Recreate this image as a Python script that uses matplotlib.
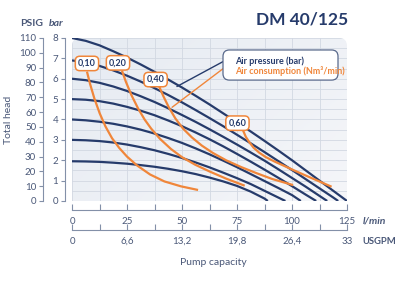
import matplotlib
matplotlib.use("Agg")
import matplotlib.pyplot as plt
from matplotlib.patches import FancyBboxPatch
import numpy as np

navy, orange = '#263b6b', '#f0863a'
txt_col, spine_col = '#4a5878', '#8390a8'

# air pressure curves (bar) - flow in l/min, head in bar
p8_x = [0, 6.25, 12.5, 18.75, 25, 31.25, 37.5, 43.75, 50, 56.25, 62.5, 68.75, 75, 81.25, 87.5, 93.75, 100, 106.25, 112.5, 118.75, 125]
p8_y = [8.0, 7.86, 7.64, 7.35, 7.04, 6.7, 6.34, 5.96, 5.57, 5.16, 4.74, 4.3, 3.86, 3.41, 2.95, 2.48, 2.0, 1.5, 1.0, 0.5, 0.0]
p7_x = [0, 6.25, 12.5, 18.75, 25, 31.25, 37.5, 43.75, 50, 56.25, 62.5, 68.75, 75, 81.25, 87.5, 93.75, 100, 106.25, 112.5, 118.75, 121]
p7_y = [6.9, 6.8, 6.63, 6.41, 6.15, 5.86, 5.54, 5.2, 4.84, 4.46, 4.07, 3.67, 3.25, 2.83, 2.4, 1.96, 1.52, 1.07, 0.62, 0.17, 0.0]
p6_x = [0, 6.25, 12.5, 18.75, 25, 31.25, 37.5, 43.75, 50, 56.25, 62.5, 68.75, 75, 81.25, 87.5, 93.75, 100, 106.25, 112.5, 116]
p6_y = [6.0, 5.93, 5.8, 5.62, 5.4, 5.14, 4.86, 4.55, 4.22, 3.88, 3.52, 3.15, 2.77, 2.38, 1.98, 1.56, 1.13, 0.7, 0.25, 0.0]
p5_x = [0, 6.25, 12.5, 18.75, 25, 31.25, 37.5, 43.75, 50, 56.25, 62.5, 68.75, 75, 81.25, 87.5, 93.75, 100, 106.25, 111]
p5_y = [5.0, 4.97, 4.9, 4.78, 4.62, 4.43, 4.21, 3.95, 3.67, 3.36, 3.03, 2.68, 2.31, 1.93, 1.54, 1.14, 0.73, 0.31, 0.0]
p4_x = [0, 6.25, 12.5, 18.75, 25, 31.25, 37.5, 43.75, 50, 56.25, 62.5, 68.75, 75, 81.25, 87.5, 93.75, 100, 104]
p4_y = [4.0, 3.96, 3.89, 3.79, 3.66, 3.5, 3.31, 3.09, 2.85, 2.58, 2.29, 1.98, 1.66, 1.32, 0.98, 0.64, 0.29, 0.0]
p3_x = [0, 6.25, 12.5, 18.75, 25, 31.25, 37.5, 43.75, 50, 56.25, 62.5, 68.75, 75, 81.25, 87.5, 93.75, 97]
p3_y = [3.0, 2.98, 2.94, 2.87, 2.77, 2.64, 2.49, 2.31, 2.11, 1.89, 1.65, 1.39, 1.12, 0.83, 0.5, 0.17, 0.0]
p2_x = [0, 6.25, 12.5, 18.75, 25, 31.25, 37.5, 43.75, 50, 56.25, 62.5, 68.75, 75, 81.25, 87.5, 89]
p2_y = [1.95, 1.94, 1.92, 1.88, 1.83, 1.76, 1.68, 1.58, 1.46, 1.32, 1.15, 0.96, 0.74, 0.46, 0.12, 0.0]
pressure = [(p8_x, p8_y), (p7_x, p7_y), (p6_x, p6_y), (p5_x, p5_y), (p4_x, p4_y), (p3_x, p3_y), (p2_x, p2_y)]

# air consumption curves (Nm3/min)
a10_x = [6.8, 8.2, 10.2, 12.6, 15.2, 18.2, 21.5, 25, 29.5, 35.5, 42, 49.5, 57.3]
a10_y = [6.35, 5.75, 5.02, 4.3, 3.66, 3.08, 2.6, 2.18, 1.75, 1.3, 0.96, 0.72, 0.54]
a20_x = [22.7, 24.5, 27, 30, 33, 36, 40, 45, 50, 56, 62.5, 70, 78.5]
a20_y = [6.4, 5.85, 5.2, 4.55, 4.0, 3.55, 3.05, 2.55, 2.15, 1.78, 1.45, 1.1, 0.75]
a40_x = [39.5, 41.5, 44, 47, 50.5, 54.5, 59, 64, 70, 77, 84, 91, 100.5]
a40_y = [5.65, 5.15, 4.6, 4.05, 3.55, 3.12, 2.72, 2.36, 2.0, 1.66, 1.36, 1.08, 0.78]
a60_x = [77.8, 79, 80.5, 82.5, 85, 88, 92, 96.5, 101, 106, 112, 118]
a60_y = [3.45, 3.15, 2.9, 2.62, 2.38, 2.16, 1.94, 1.72, 1.5, 1.26, 0.98, 0.7]
consumption = [(a10_x, a10_y), (a20_x, a20_y), (a40_x, a40_y), (a60_x, a60_y)]
cons_labels = ['0,10', '0,20', '0,40', '0,60']
label_pos = [(6.8, 6.75), (20.9, 6.78), (38.0, 5.96), (75.2, 3.82)]

lmin_ticks = [0, 25, 50, 75, 100, 125]
gpm_labels = ['0', '6,6', '13,2', '19,8', '26,4', '33']
psig_ticks = list(range(0, 111, 10))
bar_ticks = list(range(0, 9))

plt.rcParams.update({'font.size': 7, 'font.family': ['Lato', 'DejaVu Sans']})
fig = plt.figure(figsize=(4, 2.84), dpi=100)
ax = fig.add_axes([0.18, 0.2923, 0.6875, 0.5739])
ax.set_xlim(0, 125)
ax.set_ylim(0, 8)
for s in ax.spines.values():
    s.set_visible(False)

# soft background, rounded at the top right
grad = np.linspace(0, 1, 200)[None, :] * 0.6 + np.linspace(1, 0, 100)[:, None] * 0.4
bg = ax.imshow(grad, extent=(0, 125, 0, 8), aspect='auto', origin='lower',
               cmap=matplotlib.colors.LinearSegmentedColormap.from_list('bg', ['#e6ebf2', '#f5f6f9']), zorder=0)
clip = FancyBboxPatch((0, -1), 125, 9, boxstyle='round,pad=0,rounding_size=3.6',
                      mutation_aspect=0.108, transform=ax.transData, fc='none', ec='none')
ax.add_patch(clip)
bg.set_clip_path(clip)
ax.set_xticks(np.arange(0, 125.1, 12.5))
ax.set_yticks(np.arange(0, 8.01, 0.5))
ax.tick_params(length=0, labelbottom=False, labelleft=False)
ax.grid(color='#d2d8e2', lw=0.6, zorder=1)
for gl in ax.get_xgridlines() + ax.get_ygridlines():
    gl.set_clip_path(clip)
ax.set_axisbelow(False)

for x, y in pressure:
    ax.plot(x, y, color=navy, lw=1.6, solid_capstyle='butt', zorder=3)
for x, y in consumption:
    ax.plot(x, y, color=orange, lw=1.6, solid_capstyle='butt', zorder=4)
for lab, (lx, ly) in zip(cons_labels, label_pos):
    ax.text(lx, ly, lab, ha='center', va='center', color=navy, fontsize=6.5, fontweight='bold', zorder=6,
            bbox=dict(boxstyle='round,pad=0.3,rounding_size=0.5', fc='white', ec=orange, lw=1.1))

# left axes: bar and PSIG
yb = ax.secondary_yaxis(-0.025)
yb.set_yticks(bar_ticks)
yp = ax.secondary_yaxis(-0.105, functions=(lambda b: b * 110 / 8, lambda p: p * 8 / 110))
yp.set_yticks(psig_ticks)
for a in (yb, yp):
    a.spines['left'].set_color(spine_col)
    a.spines['left'].set_linewidth(0.8)
    a.tick_params(axis='y', direction='out', length=3, width=0.8, color=spine_col, labelcolor=txt_col, pad=2)

# bottom axes: l/min and USGPM
xl = ax.secondary_xaxis(-0.055)
xl.set_xticks(lmin_ticks)
xl.set_xticks(np.arange(12.5, 125, 25), minor=True)
xg = ax.secondary_xaxis(-0.178)
xg.set_xticks(lmin_ticks)
xg.set_xticklabels(gpm_labels)
xg.set_xticks(np.arange(12.5, 125, 25), minor=True)
for a in (xl, xg):
    a.spines['bottom'].set_color(spine_col)
    a.spines['bottom'].set_linewidth(0.8)
    a.tick_params(axis='x', which='both', direction='in', length=4, width=0.8, color=spine_col, labelcolor=txt_col, pad=5)

fig.text(0.08, 0.918, 'PSIG', color=txt_col, fontsize=7.5, fontweight='bold', ha='center', va='center')
fig.text(0.14, 0.918, 'bar', color=txt_col, fontsize=7.5, fontweight='bold', style='italic', ha='center', va='center')
fig.text(0.022, 0.577, 'Total head', color=txt_col, fontsize=7.5, rotation=90, ha='center', va='center')
fig.text(0.907, 0.222, 'l/min', color=txt_col, fontsize=7.5, fontweight='bold', style='italic', ha='left', va='center')
fig.text(0.905, 0.148, 'USGPM', color=txt_col, fontsize=6.8, fontweight='bold', ha='left', va='center')
fig.text(0.533, 0.077, 'Pump capacity', color=txt_col, fontsize=7.5, ha='center', va='center')
fig.text(0.755, 0.93, 'DM 40/125', color=navy, fontsize=12.5, fontweight='bold', ha='center', va='center')

# legend box with leader lines
fig.add_artist(FancyBboxPatch((0.5575, 0.718), 0.2875, 0.106, boxstyle='round,pad=0,rounding_size=0.016',
                              mutation_aspect=400 / 284, transform=fig.transFigure,
                              fc='white', ec='#5a6a8c', lw=0.9, zorder=10))
fig.text(0.587, 0.786, 'Air pressure (bar)', color=navy, fontsize=6.5, fontweight='bold', va='center', zorder=11)
fig.text(0.587, 0.751, 'Air consumption (Nm³/min)', color=orange, fontsize=6.5, fontweight='bold', va='center', zorder=11)
ax.annotate('', xy=(47.7, 5.62), xytext=(0.5575, 0.783), textcoords='figure fraction',
            arrowprops=dict(arrowstyle='-', color=navy, lw=1.0, shrinkA=0, shrinkB=0), zorder=5)
ax.annotate('', xy=(45.5, 4.6), xytext=(0.5575, 0.758), textcoords='figure fraction',
            arrowprops=dict(arrowstyle='-', color=orange, lw=1.0, shrinkA=0, shrinkB=0), zorder=5)

fig.savefig('out.png', dpi=100)
